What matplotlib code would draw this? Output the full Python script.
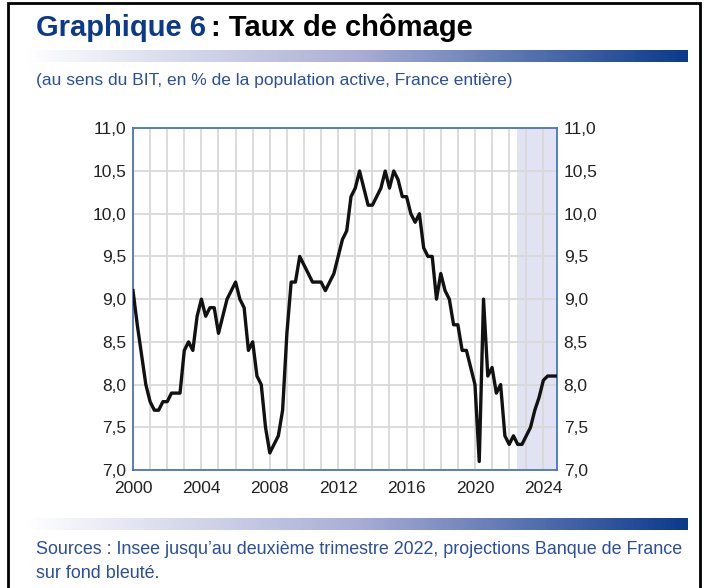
import numpy as np
import matplotlib
matplotlib.use("Agg")
import matplotlib.pyplot as plt
from matplotlib.colors import LinearSegmentedColormap
from matplotlib.ticker import FuncFormatter, MultipleLocator
from matplotlib.patches import Rectangle

# taux de chômage trimestriel, 2000T1 -> 2024T4
chomage = [
    9.1, 8.7, 8.35, 8.0,      # 2000
    7.8, 7.7, 7.7, 7.8,       # 2001
    7.8, 7.9, 7.9, 7.9,       # 2002
    8.4, 8.5, 8.4, 8.8,       # 2003
    9.0, 8.8, 8.9, 8.9,       # 2004
    8.6, 8.8, 9.0, 9.1,       # 2005
    9.2, 9.0, 8.9, 8.4,       # 2006
    8.5, 8.1, 8.0, 7.5,       # 2007
    7.2, 7.3, 7.4, 7.7,       # 2008
    8.6, 9.2, 9.2, 9.5,       # 2009
    9.4, 9.3, 9.2, 9.2,       # 2010
    9.2, 9.1, 9.2, 9.3,       # 2011
    9.5, 9.7, 9.8, 10.2,      # 2012
    10.3, 10.5, 10.3, 10.1,   # 2013
    10.1, 10.2, 10.3, 10.5,   # 2014
    10.3, 10.5, 10.4, 10.2,   # 2015
    10.2, 10.0, 9.9, 10.0,    # 2016
    9.6, 9.5, 9.5, 9.0,       # 2017
    9.3, 9.1, 9.0, 8.7,       # 2018
    8.7, 8.4, 8.4, 8.2,       # 2019
    8.0, 7.1, 9.0, 8.1,       # 2020
    8.2, 7.9, 8.0, 7.4,       # 2021
    7.3, 7.4, 7.3, 7.3,       # 2022
    7.4, 7.5, 7.7, 7.85,      # 2023
    8.05, 8.1, 8.1, 8.1,      # 2024
]
annees = 2000 + np.arange(len(chomage)) / 4
debut_projection = 2022.45

bleu_titre = "#0b3a8c"
bleu_texte = "#2a4f9e"
police = ["Liberation Sans Narrow", "Liberation Sans", "DejaVu Sans"]

fig = plt.figure(figsize=(7.05, 5.88), dpi=100)
W, H = 705, 588

def fx(px):
    return px / W

def fy(py):
    return 1 - py / H

# cadre noir
fig.patches.append(Rectangle((fx(8), fy(590)), fx(692), fy(3) - fy(590),
                             transform=fig.transFigure, fill=False,
                             edgecolor="black", linewidth=2))

# titre
t = fig.text(fx(36), fy(36), "Graphique 6", color=bleu_titre, fontsize=21,
             fontweight="bold", family=police, va="baseline")
fig.canvas.draw()
bb = t.get_window_extent()
fig.text(bb.x1 / W + fx(5), fy(36), ": Taux de chômage", color="black",
         fontsize=21, fontweight="bold", family=police, va="baseline")

# barres dégradées
degrade = LinearSegmentedColormap.from_list("deg", ["#ffffff", "#a9aed6", bleu_titre])
for y0 in (50, 518):
    axg = fig.add_axes([fx(25), fy(y0 + 12), fx(663), 12 / H])
    axg.imshow(np.linspace(0, 1, 400)[None, :], aspect="auto", cmap=degrade)
    axg.axis("off")

fig.text(fx(36), fy(81), "(au sens du BIT, en % de la population active, France entière)",
         color=bleu_texte, fontsize=12.5, family=police, va="center")

fig.text(fx(36), fy(550), "Sources : Insee jusqu’au deuxième trimestre 2022, projections Banque de France",
         color=bleu_texte, fontsize=12.9, family=police, va="center")
fig.text(fx(36), fy(573), "sur fond bleuté.",
         color=bleu_texte, fontsize=12.9, family=police, va="center")

# graphique
ax = fig.add_axes([fx(133), fy(470), fx(556.7 - 133), fy(128.3) - fy(470)])
ax.axvspan(debut_projection, 2024.78, color="#e1e3f2", zorder=0, lw=0)
ax.plot(annees, chomage, color="#111111", linewidth=2.4, zorder=3)

ax.set_xlim(2000, 2024.78)
ax.set_ylim(7.0, 11.0)
ax.xaxis.set_major_locator(MultipleLocator(4))
ax.xaxis.set_minor_locator(MultipleLocator(1))
ax.yaxis.set_major_locator(MultipleLocator(0.5))
ax.yaxis.set_major_formatter(FuncFormatter(lambda v, p: f"{v:.1f}".replace(".", ",")))
ax.grid(True, which="both", axis="x", color="#d9d9d9", linewidth=1.3, zorder=1)
ax.grid(True, which="major", axis="y", color="#d9d9d9", linewidth=1.3, zorder=1)
ax.set_axisbelow(True)

for s in ax.spines.values():
    s.set_color("#4a74c0")
    s.set_linewidth(1.3)

ax.tick_params(axis="both", which="both", length=0, labelsize=12.5, colors="#222222")
ax.tick_params(axis="y", labelright=True, pad=5)
ax.tick_params(axis="x", pad=8)
for lab in ax.get_xticklabels() + ax.get_yticklabels():
    lab.set_family(police)

fig.savefig("out.png", dpi=100)
